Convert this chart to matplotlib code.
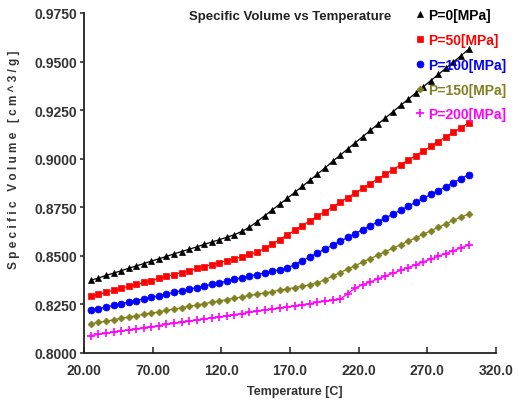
import matplotlib
matplotlib.use("Agg")
import matplotlib.pyplot as plt
from matplotlib.lines import Line2D

temperatures = [25.0, 30.5, 36.0, 41.5, 47.0, 52.5, 58.0, 63.5, 69.0, 74.5,
                80.0, 85.5, 91.0, 96.5, 102.0, 107.5, 113.0, 118.5, 124.0, 129.5,
                135.0, 140.5, 146.0, 151.5, 157.0, 162.5, 168.0, 173.5, 179.0, 184.5,
                190.0, 195.5, 201.0, 206.5, 212.0, 217.5, 223.0, 228.5, 234.0, 239.5,
                245.0, 250.5, 256.0, 261.5, 267.0, 272.5, 278.0, 283.5, 289.0, 294.5,
                300.0]

v_p0 = [0.8374, 0.8386, 0.8399, 0.8411, 0.8423, 0.8436, 0.8448, 0.8460, 0.8473, 0.8485,
        0.8497, 0.8510, 0.8522, 0.8534, 0.8546, 0.8559, 0.8571, 0.8583, 0.8596, 0.8609,
        0.8626, 0.8648, 0.8676, 0.8706, 0.8736, 0.8766, 0.8796, 0.8827, 0.8858, 0.8889,
        0.8921, 0.8953, 0.8986, 0.9018, 0.9050, 0.9082, 0.9114, 0.9146, 0.9178, 0.9210,
        0.9242, 0.9274, 0.9306, 0.9338, 0.9370, 0.9402, 0.9434, 0.9466, 0.9498, 0.9530,
        0.9563]
v_p50 = [0.8292, 0.8302, 0.8312, 0.8323, 0.8333, 0.8343, 0.8353, 0.8363, 0.8373, 0.8384,
         0.8394, 0.8404, 0.8414, 0.8424, 0.8435, 0.8445, 0.8455, 0.8465, 0.8475, 0.8485,
         0.8496, 0.8507, 0.8520, 0.8538, 0.8560, 0.8584, 0.8608, 0.8632, 0.8656, 0.8680,
         0.8704, 0.8728, 0.8752, 0.8776, 0.8800, 0.8824, 0.8848, 0.8872, 0.8896, 0.8920,
         0.8944, 0.8968, 0.8992, 0.9016, 0.9040, 0.9064, 0.9088, 0.9112, 0.9136, 0.9160,
         0.9184]
v_p100 = [0.8220, 0.8228, 0.8237, 0.8245, 0.8253, 0.8262, 0.8270, 0.8279, 0.8287, 0.8295,
          0.8304, 0.8312, 0.8320, 0.8329, 0.8337, 0.8345, 0.8354, 0.8362, 0.8370, 0.8379,
          0.8387, 0.8396, 0.8404, 0.8412, 0.8421, 0.8429, 0.8439, 0.8455, 0.8475, 0.8495,
          0.8515, 0.8535, 0.8555, 0.8575, 0.8595, 0.8615, 0.8635, 0.8655, 0.8675, 0.8695,
          0.8715, 0.8735, 0.8755, 0.8776, 0.8796, 0.8816, 0.8836, 0.8856, 0.8877, 0.8897,
          0.8918]
v_p150 = [0.8150, 0.8157, 0.8164, 0.8171, 0.8178, 0.8185, 0.8192, 0.8199, 0.8205, 0.8212,
          0.8219, 0.8226, 0.8233, 0.8240, 0.8247, 0.8254, 0.8261, 0.8268, 0.8275, 0.8282,
          0.8289, 0.8296, 0.8302, 0.8309, 0.8316, 0.8323, 0.8330, 0.8337, 0.8344, 0.8351,
          0.8361, 0.8378, 0.8396, 0.8414, 0.8432, 0.8450, 0.8468, 0.8486, 0.8504, 0.8522,
          0.8540, 0.8557, 0.8575, 0.8593, 0.8611, 0.8629, 0.8647, 0.8665, 0.8683, 0.8700,
          0.8715]
v_p200 = [0.8090, 0.8096, 0.8101, 0.8107, 0.8113, 0.8118, 0.8124, 0.8130, 0.8135, 0.8141,
          0.8147, 0.8152, 0.8158, 0.8164, 0.8169, 0.8175, 0.8181, 0.8186, 0.8192, 0.8198,
          0.8203, 0.8209, 0.8215, 0.8220, 0.8226, 0.8232, 0.8237, 0.8243, 0.8249, 0.8254,
          0.8260, 0.8266, 0.8271, 0.8277, 0.8305, 0.8335, 0.8352, 0.8366, 0.8382, 0.8396,
          0.8411, 0.8425, 0.8440, 0.8454, 0.8469, 0.8483, 0.8498, 0.8512, 0.8527, 0.8541,
          0.8556]

series_labels = ["P=0[MPa]", "P=50[MPa]", "P=100[MPa]", "P=150[MPa]", "P=200[MPa]"]
series_values = [v_p0, v_p50, v_p100, v_p150, v_p200]

x_ticks = [20, 70, 120, 170, 220, 270, 320]
x_tick_labels = ["20.00", "70.00", "120.0", "170.0", "220.0", "270.0", "320.0"]
y_ticks = [0.8, 0.825, 0.85, 0.875, 0.9, 0.925, 0.95, 0.975]

colors = ["#000000", "#ff0000", "#0000ff", "#808020", "#ff00ff"]
markers = ["^", "s", "o", "D", "+"]
msizes = [4.5, 5, 5, 3.5, 6]

plt.rcParams['font.family'] = ['Liberation Sans', 'DejaVu Sans']

fig = plt.figure(figsize=(5.18, 4.02), dpi=100)
ax = fig.add_axes([84 / 518, 1 - 354 / 402, 412 / 518, 340 / 402])

for vals, c, m, ms in zip(series_values, colors, markers, msizes):
    ax.plot(temperatures, vals, color=c, marker=m, markersize=ms, linewidth=0.9,
            markeredgewidth=1.2 if m == "+" else 0.5)

ax.set_xlim(20, 320)
ax.set_ylim(0.8, 0.975)
ax.set_xticks(x_ticks)
ax.set_xticklabels(x_tick_labels)
ax.set_yticks(y_ticks)
ax.set_yticklabels([f"{v:.4f}" for v in y_ticks])

for side in ["top", "right"]:
    ax.spines[side].set_visible(False)
for side in ["left", "bottom"]:
    ax.spines[side].set_linewidth(1.3)
    ax.spines[side].set_color("#222222")

ax.tick_params(axis="x", direction="in", length=4, width=1.2, pad=7, labelsize=10, colors="#333333")
ax.tick_params(axis="y", direction="out", length=3, width=1.2, pad=2, labelsize=10, colors="#333333")
for lab in ax.get_xticklabels() + ax.get_yticklabels():
    lab.set_fontweight("bold")

ax.text(0.5, 0.991, "Specific Volume vs Temperature", transform=ax.transAxes,
        ha="center", va="center", fontsize=9.5, fontweight="bold", color="#222222")

ax.set_xlabel("Temperature [C]", fontsize=9, fontweight="bold", color="#333333")
ax.xaxis.set_label_coords(0.512, -0.112)
ax.xaxis.label.set_va("center")

ax.set_ylabel(" ".join("Specific Volume [cm^3/g]"), fontsize=8.5, fontweight="bold", color="#333333")
ax.yaxis.set_label_coords(-0.17, 0.57)
ax.yaxis.label.set_va("center")

handles = [Line2D([], [], color=c, marker=m, markersize=ms, linestyle="none",
                  markeredgewidth=1.2 if m == "+" else 0.5)
           for c, m, ms in zip(colors, markers, msizes)]
leg = ax.legend(handles, series_labels, loc="upper left", bbox_to_anchor=(416 / 518, 1 - 9 / 402),
                bbox_transform=fig.transFigure, frameon=False, borderpad=0, borderaxespad=0,
                handlelength=0.6, handletextpad=0.3, labelspacing=0.78,
                prop={"size": 10, "weight": "bold"})
for txt, c in zip(leg.get_texts(), colors):
    txt.set_color(c)

fig.savefig("out.png", dpi=100)
